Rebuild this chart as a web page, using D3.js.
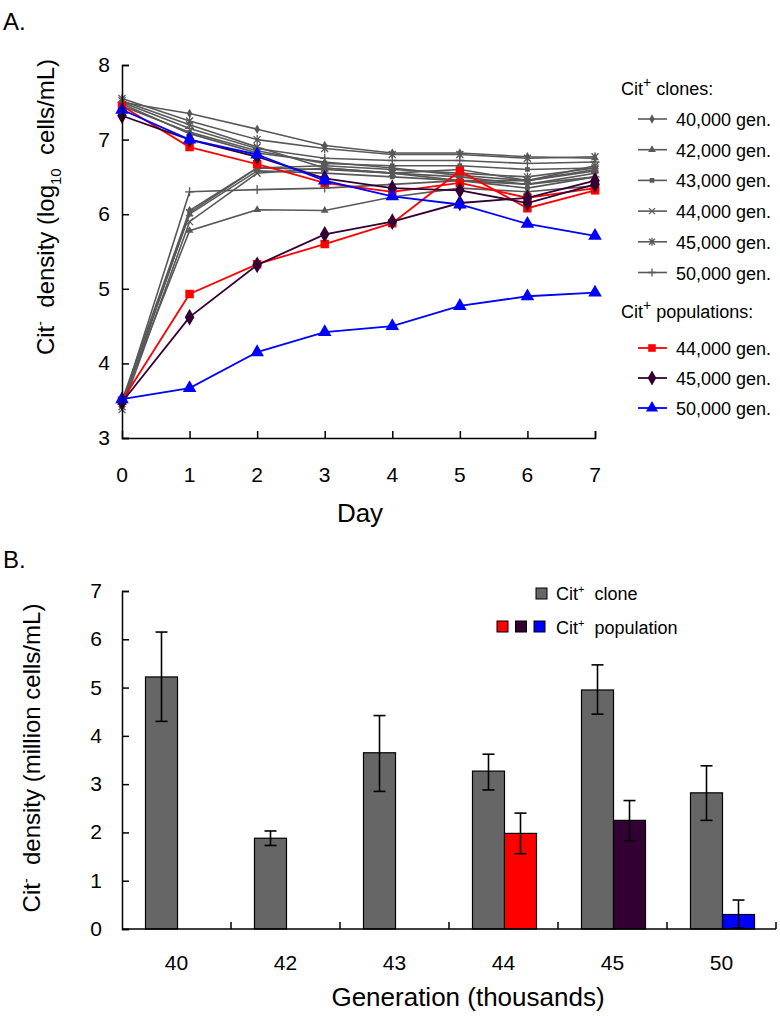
<!DOCTYPE html>
<html>
<head>
<meta charset="utf-8">
<script src="https://cdn.jsdelivr.net/npm/d3@7"></script>
<style>
  body { margin: 0; background: #fff; }
  svg { font-family: 'Liberation Sans', Arial, sans-serif; }
  text { white-space: pre; }
</style>
</head>
<body>
<div id="chart"></div>
<script>
// ---- panel A data (log10 Cit- cells/mL by day) ----
const days = [0, 1, 2, 3, 4, 5, 6, 7]
const yTicksA = [3, 4, 5, 6, 7, 8]

// Cit+ clones, co-cultures started at high Cit- density
const clone40Hi = [7.50, 7.35, 7.14, 6.92, 6.82, 6.82, 6.77, 6.75]
const clone42Hi = [7.48, 7.08, 6.82, 6.70, 6.62, 6.52, 6.45, 6.58]
const clone43Hi = [7.45, 7.10, 6.85, 6.68, 6.65, 6.65, 6.60, 6.62]
const clone44Hi = [7.52, 7.20, 6.90, 6.62, 6.55, 6.60, 6.45, 6.65]
const clone45Hi = [7.55, 7.25, 7.00, 6.88, 6.80, 6.80, 6.75, 6.77]
const clone50Hi = [7.50, 7.15, 6.88, 6.75, 6.72, 6.72, 6.68, 6.70]
// Cit+ clones, started at low Cit- density
const clone40Lo = [3.50, 6.05, 6.62, 6.60, 6.55, 6.50, 6.40, 6.55]
const clone42Lo = [3.48, 5.78, 6.06, 6.05, 6.23, 6.35, 6.30, 6.38]
const clone43Lo = [3.45, 6.00, 6.58, 6.55, 6.50, 6.45, 6.35, 6.50]
const clone44Lo = [3.38, 5.90, 6.55, 6.62, 6.55, 6.45, 6.45, 6.60]
const clone45Lo = [3.42, 6.02, 6.62, 6.65, 6.60, 6.55, 6.50, 6.62]
const clone50Lo = [3.45, 6.30, 6.33, 6.35, 6.40, 6.45, 6.40, 6.50]

// Cit+ populations
const pop44Hi = [7.45, 6.90, 6.67, 6.42, 6.30, 6.42, 6.22, 6.35]
const pop44Lo = [3.50, 4.93, 5.33, 5.60, 5.88, 6.58, 6.08, 6.32]
const pop45Hi = [7.32, 7.00, 6.77, 6.48, 6.35, 6.32, 6.15, 6.40]
const pop45Lo = [3.48, 4.62, 5.32, 5.73, 5.90, 6.15, 6.22, 6.45]
const pop50Hi = [7.40, 7.00, 6.80, 6.45, 6.24, 6.13, 5.87, 5.71]
const pop50Lo = [3.52, 3.67, 4.15, 4.42, 4.50, 4.77, 4.90, 4.95]

const cloneLabels = ['40,000 gen.', '42,000 gen.', '43,000 gen.', '44,000 gen.', '45,000 gen.', '50,000 gen.']
const cloneMarkers = ['diamond', 'triangle', 'square', 'x', 'star', 'plus']
const popLabels = ['44,000 gen.', '45,000 gen.', '50,000 gen.']
const popMarkers = ['square', 'diamond', 'triangle']
const popColors = ['#ff0000', '#330033', '#0000ff']
const grey = '#585858'

// ---- panel B data (million Cit- cells/mL) ----
const generations = ['40', '42', '43', '44', '45', '50']
const cloneMean = [5.22, 1.88, 3.65, 3.27, 4.95, 2.82]
const cloneUpper = [6.15, 2.03, 4.42, 3.62, 5.47, 3.38]
const cloneLower = [4.30, 1.73, 2.85, 2.88, 4.45, 2.25]
const popMean = [null, null, null, 1.98, 2.25, 0.30]
const popUpper = [null, null, null, 2.40, 2.66, 0.60]
const popLower = [null, null, null, 1.56, 1.83, 0.02]
const barColors = [null, null, null, '#ff0000', '#330033', '#0000ff']
const yTicksB = [0, 1, 2, 3, 4, 5, 6, 7]

const svg = d3.select('#chart').append('svg')
  .attr('width', 780)
  .attr('height', 1016)

// marker drawing helper
function marker(g, type, size, color) {
  if (type === 'x' || type === 'star' || type === 'plus') {
    const s = size
    let p = ''
    if (type !== 'plus') p += `M${-s},${-s}L${s},${s}M${-s},${s}L${s},${-s}`
    if (type === 'star') p += `M0,${-s - 1}V${s + 1}`
    if (type === 'plus') p += `M${-s - 1},0H${s + 1}M0,${-s - 1}V${s + 1}`
    g.append('path').attr('d', p)
      .attr('fill', 'none').attr('stroke', color).attr('stroke-width', 1.3)
  } else {
    const sym = { diamond: d3.symbolDiamond, triangle: d3.symbolTriangle, square: d3.symbolSquare }[type]
    g.append('path').attr('d', d3.symbol().type(sym).size(size)())
      .attr('fill', color)
  }
}

// ================= PANEL A =================
const xA = d3.scaleLinear().domain([0, 7]).range([122, 595])
const yA = d3.scaleLinear().domain([3, 8]).range([438, 65])

svg.append('text').attr('x', 3).attr('y', 30).attr('font-size', 24).text('A.')

const line = d3.line()
  .x((d, i) => xA(days[i]))
  .y(d => yA(d))

const cloneSeries = [
  [clone40Hi, clone40Lo], [clone42Hi, clone42Lo], [clone43Hi, clone43Lo],
  [clone44Hi, clone44Lo], [clone45Hi, clone45Lo], [clone50Hi, clone50Lo]
]
const cloneSize = { diamond: 26, triangle: 26, square: 22 }

cloneSeries.forEach(function(pair, k) {
  pair.forEach(function(vals) {
    svg.append('path').attr('d', line(vals))
      .attr('fill', 'none').attr('stroke', grey).attr('stroke-width', 1.6)
    vals.forEach(function(v, i) {
      const g = svg.append('g').attr('transform', `translate(${xA(days[i])},${yA(v)})`)
      const m = cloneMarkers[k]
      marker(g, m, m === 'x' || m === 'star' || m === 'plus' ? 3.5 : cloneSize[m], grey)
    })
  })
})

const popSeries = [[pop44Hi, pop44Lo], [pop45Hi, pop45Lo], [pop50Hi, pop50Lo]]
const popSize = { square: 72, diamond: 80, triangle: 80 }

popSeries.forEach(function(pair, k) {
  pair.forEach(function(vals) {
    svg.append('path').attr('d', line(vals))
      .attr('fill', 'none').attr('stroke', popColors[k]).attr('stroke-width', 1.8)
    vals.forEach(function(v, i) {
      const g = svg.append('g').attr('transform', `translate(${xA(days[i])},${yA(v)})`)
      marker(g, popMarkers[k], popSize[popMarkers[k]], popColors[k])
    })
  })
})

// axes A
const yAxisA = d3.axisRight(yA).tickValues(yTicksA).tickSize(7).tickFormat('')
svg.append('g').attr('transform', 'translate(122,0)').call(yAxisA)
const xAxisA = d3.axisTop(xA).tickValues(days.slice(1)).tickSize(7).tickFormat('')
svg.append('g').attr('transform', 'translate(0,438)').call(xAxisA)
svg.selectAll('.domain').attr('stroke', '#000').attr('stroke-width', 1.5)
svg.selectAll('.tick line').attr('stroke', '#000').attr('stroke-width', 1.5)

svg.selectAll('.ytickA').data(yTicksA).enter().append('text')
  .attr('x', 110).attr('y', d => yA(d) + 7)
  .attr('text-anchor', 'end').attr('font-size', 21).text(d => d)
svg.selectAll('.xtickA').data(days).enter().append('text')
  .attr('x', d => xA(d)).attr('y', 482)
  .attr('text-anchor', 'middle').attr('font-size', 21).text(d => d)

svg.append('text').attr('x', 360).attr('y', 522)
  .attr('text-anchor', 'middle').attr('font-size', 26).text('Day')

const yLabA = svg.append('text')
  .attr('transform', 'translate(54,207) rotate(-90)')
  .attr('text-anchor', 'middle').attr('font-size', 24)
yLabA.append('tspan').text('Cit')
yLabA.append('tspan').attr('dy', -9).attr('font-size', 14).text('-')
yLabA.append('tspan').attr('dy', 9).text('  density (log')
yLabA.append('tspan').attr('dy', 7).attr('font-size', 15).text('10')
yLabA.append('tspan').attr('dy', -7).text('  cells/mL)')

// legend A
function legendHeader(y, word) {
  const t = svg.append('text').attr('x', 621).attr('y', y).attr('font-size', 18)
  t.append('tspan').text('Cit')
  t.append('tspan').attr('dy', -8).attr('font-size', 14).text('+')
  t.append('tspan').attr('dy', 8).text(' ' + word)
}
legendHeader(95, 'clones:')
cloneLabels.forEach(function(lab, k) {
  const y = 119 + k * 30.7
  svg.append('line').attr('x1', 638).attr('x2', 667).attr('y1', y).attr('y2', y)
    .attr('stroke', grey).attr('stroke-width', 1.6)
  const g = svg.append('g').attr('transform', `translate(652,${y})`)
  const m = cloneMarkers[k]
  marker(g, m, m === 'x' || m === 'star' || m === 'plus' ? 3 : cloneSize[m], grey)
  svg.append('text').attr('x', 676).attr('y', y + 7).attr('font-size', 18).text(lab)
})
legendHeader(318, 'populations:')
popLabels.forEach(function(lab, k) {
  const y = 348 + k * 30
  svg.append('line').attr('x1', 638).attr('x2', 667).attr('y1', y).attr('y2', y)
    .attr('stroke', popColors[k]).attr('stroke-width', 1.8)
  const g = svg.append('g').attr('transform', `translate(652,${y})`)
  marker(g, popMarkers[k], popSize[popMarkers[k]] * 0.8, popColors[k])
  svg.append('text').attr('x', 676).attr('y', y + 7).attr('font-size', 18).text(lab)
})

// ================= PANEL B =================
const xB = d3.scaleBand().domain(generations).range([122, 776])
const yB = d3.scaleLinear().domain([0, 7]).range([929, 591])
const barW = 32

svg.append('text').attr('x', 3).attr('y', 568).attr('font-size', 24).text('B.')

const barsData = generations.map((g, i) => ({
  gen: g, clone: cloneMean[i], cHi: cloneUpper[i], cLo: cloneLower[i],
  pop: popMean[i], pHi: popUpper[i], pLo: popLower[i], color: barColors[i]
}))

const cx = d => xB(d.gen) + xB.bandwidth() / 2 + 1

svg.selectAll('.clone-bar').data(barsData).enter().append('rect')
  .attr('class', 'clone-bar')
  .attr('x', d => cx(d) - barW)
  .attr('y', d => yB(d.clone))
  .attr('width', barW)
  .attr('height', d => yB(0) - yB(d.clone))
  .attr('fill', '#666666').attr('stroke', '#000').attr('stroke-width', 1.2)

const popData = barsData.filter(d => d.pop !== null)
svg.selectAll('.pop-bar').data(popData).enter().append('rect')
  .attr('class', 'pop-bar')
  .attr('x', d => cx(d))
  .attr('y', d => yB(d.pop))
  .attr('width', barW)
  .attr('height', d => yB(0) - yB(d.pop))
  .attr('fill', d => d.color).attr('stroke', '#000').attr('stroke-width', 1.2)

function errorBar(x, hi, lo) {
  const g = svg.append('g').attr('stroke', '#000').attr('stroke-width', 1.6)
  g.append('line').attr('x1', x).attr('x2', x).attr('y1', yB(hi)).attr('y2', yB(lo))
  g.append('line').attr('x1', x - 6).attr('x2', x + 6).attr('y1', yB(hi)).attr('y2', yB(hi))
  g.append('line').attr('x1', x - 6).attr('x2', x + 6).attr('y1', yB(lo)).attr('y2', yB(lo))
}
barsData.forEach(d => errorBar(cx(d) - barW / 2, d.cHi, d.cLo))
popData.forEach(d => errorBar(cx(d) + barW / 2, d.pHi, d.pLo))

// axes B
const yAxisB = d3.axisRight(yB).tickValues(yTicksB).tickSize(7).tickFormat('')
svg.append('g').attr('class', 'axB').attr('transform', 'translate(122,0)').call(yAxisB)
svg.append('line').attr('x1', 122).attr('x2', 776).attr('y1', 929).attr('y2', 929)
  .attr('stroke', '#000').attr('stroke-width', 1.5)
svg.selectAll('.xtickB').data(generations).enter().append('line')
  .attr('x1', d => xB(d) + xB.bandwidth()).attr('x2', d => xB(d) + xB.bandwidth())
  .attr('y1', 929).attr('y2', 922)
  .attr('stroke', '#000').attr('stroke-width', 1.5)
svg.selectAll('.axB .domain').attr('stroke', '#000').attr('stroke-width', 1.5)
svg.selectAll('.axB .tick line').attr('stroke', '#000').attr('stroke-width', 1.5)

svg.selectAll('.ytickBl').data(yTicksB).enter().append('text')
  .attr('x', 102).attr('y', d => yB(d) + 7)
  .attr('text-anchor', 'end').attr('font-size', 21).text(d => d)
svg.selectAll('.xtickBl').data(generations).enter().append('text')
  .attr('x', d => xB(d) + xB.bandwidth() / 2).attr('y', 970)
  .attr('text-anchor', 'middle').attr('font-size', 21).text(d => d)

svg.append('text').attr('x', 468).attr('y', 1006)
  .attr('text-anchor', 'middle').attr('font-size', 26).text('Generation (thousands)')

const yLabB = svg.append('text')
  .attr('transform', 'translate(40,758) rotate(-90)')
  .attr('text-anchor', 'middle').attr('font-size', 24)
yLabB.append('tspan').text('Cit')
yLabB.append('tspan').attr('dy', -9).attr('font-size', 14).text('-')
yLabB.append('tspan').attr('dy', 9).text('  density (million cells/mL)')

// legend B
svg.append('rect').attr('x', 536).attr('y', 588).attr('width', 11).attr('height', 11)
  .attr('fill', '#666666').attr('stroke', '#000').attr('stroke-width', 1)
popColors.forEach(function(c, k) {
  svg.append('rect').attr('x', 497 + k * 18.5).attr('y', 621).attr('width', 11).attr('height', 11)
    .attr('fill', c).attr('stroke', '#000').attr('stroke-width', 1)
})
function legendB(y, word) {
  const t = svg.append('text').attr('x', 556).attr('y', y).attr('font-size', 18)
  t.append('tspan').text('Cit')
  t.append('tspan').attr('dy', -7).attr('font-size', 11).text('+')
  t.append('tspan').attr('dy', 7).text('  ' + word)
}
legendB(600, 'clone')
legendB(634, 'population')
</script>
</body>
</html>
